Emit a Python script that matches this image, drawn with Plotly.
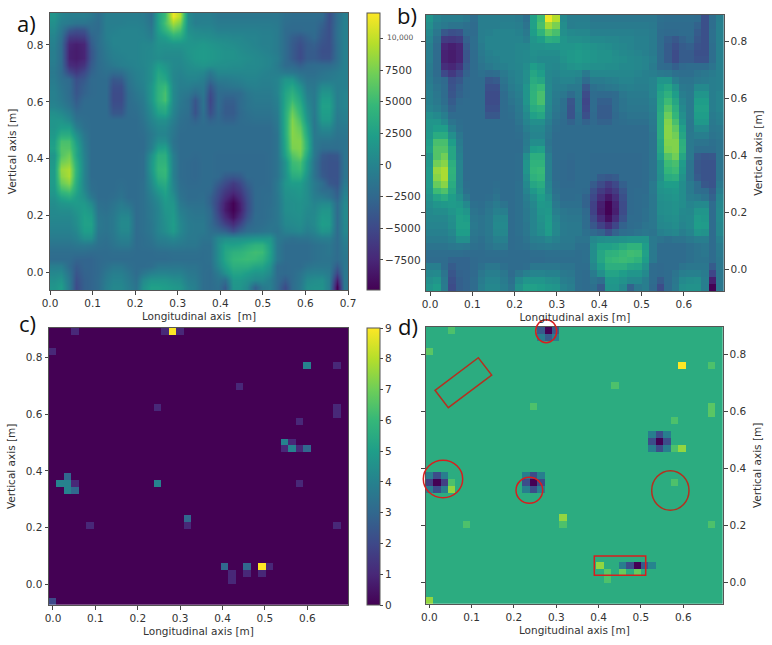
"""Four panel figure: field map, coarse field map, sparse counts, and their difference."""

import numpy as np
import plotly.graph_objects as go
from plotly.subplots import make_subplots

W, H = 772, 645
N = 40

x_ticks_a = [0.0, 0.1, 0.2, 0.3, 0.4, 0.5, 0.6, 0.7]
x_ticks = [0.0, 0.1, 0.2, 0.3, 0.4, 0.5, 0.6]
y_ticks = [0.0, 0.2, 0.4, 0.6, 0.8]
cbar_a_ticks = [-7500, -5000, -2500, 0, 2500, 5000, 7500, 10000]
cbar_a_labels = ["\u22127500", "\u22125000", "\u22122500", "0", "2500", "5000", "7500", " "]
cbar_c_ticks = [0, 1, 2, 3, 4, 5, 6, 7, 8, 9]

# field, in hundreds, first row is the top of the picture
field_rows = [
    [15,0,-5,-5,-5,-10,-20,-5,-5,-5,-5,-5,-8,-18,25,50,115,95,5,-5, -5,-5,-12,-12,-12,-12,-12,-12,-12,-12,-12,-18,-20,-20,-20,-20,-22,-45,-20,-5],
    [10,-5,-10,-15,-15,-18,-22,-5,-5,-5,-3,-3,-5,-15,25,55,90,75,8,-5, -3,-3,-8,-8,-8,-8,-8,-8,-8,-8,-10,-20,-22,-22,-22,-22,-30,-45,-20,-3],
    [5,-12,-38,-45,-42,-22,-22,-5,-3,0,0,0,-2,-10,22,42,65,55,10,5, 3,3,-3,-3,-3,-3,-3,-3,-5,-5,-8,-22,-24,-24,-22,-22,-35,-45,-18,-3],
    [0,-18,-60,-62,-58,-30,-20,-5,0,0,0,0,0,-5,15,22,38,35,15,10, 10,8,5,5,3,3,0,0,-3,-3,-8,-22,-32,-38,-30,-24,-38,-45,-18,-3],
    [-3,-22,-75,-80,-75,-35,-20,-8,0,0,0,0,3,3,12,12,15,15,15,15, 18,15,12,10,8,5,3,0,-3,-3,-8,-22,-35,-45,-35,-32,-42,-45,-20,-3],
    [-5,-22,-78,-82,-76,-40,-22,-10,-3,0,0,0,3,5,10,8,8,8,15,18, 20,18,15,12,12,8,5,3,0,-3,-8,-22,-35,-48,-35,-35,-45,-45,-20,-3],
    [-5,-22,-78,-82,-76,-40,-22,-12,-5,-3,0,0,3,5,8,5,5,5,12,18, 20,18,15,12,12,10,8,5,3,0,-5,-22,-35,-48,-35,-35,-42,-42,-20,-3],
    [-8,-22,-70,-75,-65,-35,-22,-15,-10,-5,-3,0,2,8,22,15,5,3,8,12, 15,12,10,10,8,8,5,5,3,0,-8,-22,-24,-32,-24,-22,-22,-22,-15,-3],
    [-10,-22,-50,-62,-50,-30,-22,-18,-22,-20,-10,-3,0,10,30,22,3,0,5,5, 3,-10,3,3,3,3,3,3,0,-3,-5,-10,-12,-18,-20,-20,-15,-12,-8,-3],
    [-8,-18,-24,-45,-38,-24,-22,-22,-38,-35,-15,-5,0,10,35,30,3,-3,0,0, -5,-22,-8,-8,-5,-3,0,0,-3,-3,0,15,15,-5,-15,-15,-10,-8,-5,-3],
    [-5,-15,-22,-42,-32,-24,-22,-22,-45,-45,-18,-8,-2,15,40,48,5,-5,-5,-10, -10,-38,-18,-15,-12,-10,-5,-3,-5,-5,0,22,30,12,-10,-12,5,5,-5,-3],
    [-3,-12,-22,-40,-30,-24,-22,-22,-48,-48,-22,-12,-5,15,42,55,5,-8,-12,-22, -12,-48,-22,-24,-24,-22,-12,-8,-8,-8,0,28,40,22,-5,-10,15,15,-5,0],
    [-3,-10,-20,-35,-24,-22,-22,-22,-48,-48,-22,-15,-8,15,42,55,5,-10,-18,-40, -15,-52,-22,-32,-32,-22,-15,-10,-10,-10,-3,30,50,30,0,-10,22,22,-5,0],
    [0,-5,-15,-30,-22,-22,-22,-22,-45,-45,-22,-18,-10,10,35,40,3,-12,-18,-42, -15,-50,-22,-35,-35,-22,-15,-12,-12,-12,-5,32,60,38,5,-10,25,25,-5,0],
    [10,5,-5,-22,-22,-22,-22,-22,-38,-38,-22,-20,-12,5,25,30,0,-15,-20,-42, -18,-45,-24,-35,-35,-24,-18,-15,-15,-15,-8,35,70,45,10,-10,22,22,-8,-3],
    [15,15,5,-15,-20,-22,-22,-22,-22,-22,-22,-22,-15,0,10,10,-5,-18,-22,-30, -20,-30,-24,-30,-30,-22,-20,-18,-18,-18,-10,35,78,55,15,-12,18,18,-10,-5],
    [15,22,22,-5,-18,-22,-22,-22,-22,-22,-22,-22,-18,-5,3,3,-10,-20,-22,-22, -22,-22,-22,-22,-22,-22,-22,-22,-22,-22,-12,35,80,65,25,-12,5,5,-12,-10],
    [18,35,35,10,-12,-22,-22,-22,-22,-22,-22,-22,-20,-10,0,0,-12,-22,-22,-22, -22,-22,-22,-22,-22,-22,-22,-22,-22,-22,-15,35,80,72,30,-10,-5,-5,-15,-12],
    [22,55,55,22,-8,-22,-22,-22,-22,-22,-22,-22,-22,-8,8,8,-15,-22,-22,-22, -22,-22,-22,-22,-22,-22,-22,-22,-22,-22,-15,32,78,78,38,-10,-15,-15,-18,-15],
    [25,60,60,30,-5,-22,-22,-22,-22,-22,-22,-22,-22,-5,22,25,-12,-22,-22,-22, -22,-22,-22,-22,-22,-22,-22,-22,-22,-22,-15,30,75,78,40,-10,-20,-20,-20,-15],
    [15,60,72,30,-2,-22,-22,-22,-22,-22,-22,-22,-20,10,38,38,-5,-22,-22,-24, -22,-22,-24,-24,-24,-24,-24,-24,-24,-22,-15,25,60,72,30,-10,-35,-40,-38,-15],
    [18,72,80,38,0,-22,-22,-22,-22,-22,-22,-22,-20,15,42,42,-3,-22,-24,-26, -22,-22,-24,-24,-24,-24,-24,-24,-24,-22,-15,12,50,55,20,-15,-38,-42,-42,-15],
    [20,85,92,42,0,-22,-22,-22,-22,-22,-22,-22,-20,15,45,48,-3,-22,-24,-26, -22,-22,-24,-24,-24,-24,-24,-24,-24,-22,-15,12,45,50,18,-15,-38,-42,-42,-15],
    [20,80,92,40,0,-22,-22,-22,-22,-22,-22,-22,-20,10,40,45,-3,-22,-24,-26, -22,-22,-24,-35,-38,-35,-24,-24,-24,-22,-15,10,35,38,12,-15,-35,-42,-42,-15],
    [20,68,80,35,0,-20,-22,-22,-22,-20,-22,-22,-18,5,30,35,0,-20,-24,-24, -22,-22,-35,-48,-60,-50,-32,-24,-24,-22,-10,15,22,22,8,-8,-20,-38,-42,-10],
    [18,50,58,30,3,-18,-22,-22,-22,-18,-22,-22,-18,0,18,28,3,-18,-22,-22, -22,-24,-45,-60,-70,-60,-40,-24,-22,-22,-10,12,15,18,8,-8,-20,-22,-35,-5],
    [12,28,35,22,10,-10,-22,-22,-20,-15,-22,-22,-18,-5,8,22,10,-15,-22,-22, -20,-30,-50,-70,-85,-70,-45,-24,-22,-20,-12,10,12,15,8,-5,-8,-15,-30,0],
    [8,15,18,20,18,5,-18,-20,-15,-8,-15,-22,-18,-8,3,18,15,-10,-18,-18, -18,-30,-55,-80,-98,-78,-48,-24,-22,-20,-12,8,10,12,8,0,5,5,-22,3],
    [5,8,8,15,22,15,-15,-18,-12,-3,-5,-22,-18,-10,0,15,18,-5,-12,-15, -15,-24,-55,-82,-98,-80,-48,-24,-22,-18,-12,8,10,12,5,3,15,15,-22,5],
    [3,3,3,10,25,22,-12,-15,-10,3,3,-22,-18,-10,0,12,20,0,-10,-12, -12,-22,-48,-72,-90,-70,-42,-22,-22,-18,-12,5,8,10,3,5,20,18,-22,5],
    [0,0,0,8,25,25,-10,-15,-10,5,5,-22,-18,-12,0,10,22,3,-8,-10, -10,-22,-38,-55,-70,-52,-30,-22,-20,-15,-12,3,5,8,0,5,22,20,-22,3],
    [-3,-3,-3,3,22,22,-12,-15,-10,3,3,-22,-18,-12,0,8,20,3,-8,-10, -10,-18,-24,-30,-45,-30,-20,-18,-15,-12,-15,-3,0,3,-5,0,15,12,-22,3],
    [-8,-8,-8,-3,10,10,-15,-18,-12,-3,-3,-22,-20,-15,-5,-3,3,-3,-10,-10, -15,-15,3,8,10,10,12,15,15,15,-10,-15,-18,-15,-15,-10,-5,-5,-22,-3],
    [-15,-15,-15,-12,-10,-12,-18,-20,-15,-10,-10,-22,-20,-18,-12,-10,-8,-10,-12,-12, -18,-18,8,25,25,28,35,42,42,22,-10,-22,-22,-22,-22,-18,-15,-12,-22,-8],
    [-20,-20,-20,-20,-20,-22,-22,-22,-20,-20,-20,-22,-22,-22,-20,-20,-18,-18,-18,-18, -20,-18,8,30,40,42,48,52,50,25,-10,-22,-22,-22,-22,-18,-15,-12,-22,-10],
    [-22,-22,-22,-28,-28,-28,-24,-22,-22,-22,-22,-22,-22,-22,-22,-22,-20,-20,-20,-20, -20,-18,8,30,45,48,50,48,42,22,-10,-22,-22,-22,-22,-18,-15,-15,-22,-12],
    [-5,-5,-22,-35,-28,-28,-24,-18,-12,-12,-18,-22,-22,-20,-12,-12,-12,-12,-15,-15, -20,-20,3,22,38,38,38,30,28,12,-22,-24,-22,-22,-15,-12,-12,-12,-35,-12],
    [3,5,-15,-40,-30,-28,-24,-12,-5,-5,-12,-22,-12,-3,0,0,-2,-2,-10,-12, -20,-22,-8,10,28,28,22,15,15,5,-22,-24,-22,-15,-5,-3,-3,-8,-52,-12],
    [10,15,-10,-45,-32,-28,-22,-8,0,0,-8,-18,5,15,15,15,10,8,-5,-8, -20,-22,-15,-20,18,18,12,5,5,-5,-22,-35,-22,-12,5,8,10,-5,-80,-12],
    [15,22,-8,-48,-32,-28,-22,-5,3,3,-5,-15,12,25,25,22,18,15,0,-5, -20,-22,-18,-35,15,15,5,-30,-10,-5,-24,-48,-22,-10,10,12,12,-5,-100,-12],
]

# non zero cells of panel c, rows counted from the top
c_cols = [3, 15, 16, 17, 0, 34, 38, 25, 14, 38, 38, 33, 31, 32, 31, 32, 33, 34, 2, 1, 2, 3, 2, 3, 14, 33, 18, 18, 5, 38, 23, 26, 28, 29, 24, 26, 28, 24, 0]
c_rows = [0, 0, 0, 0, 3, 5, 5, 8, 11, 11, 12, 13, 16, 16, 17, 17, 17, 17, 21, 22, 22, 22, 23, 23, 22, 22, 27, 28, 28, 28, 34, 34, 34, 34, 35, 35, 35, 36, 39]
c_vals = [1, 1, 9, 1, 1, 4, 1, 1, 1, 1, 1, 1, 4, 1, 1, 4, 1, 3, 3, 4, 4, 1, 4, 3, 4, 1, 3, 1, 1, 1, 3, 3, 9, 1, 1, 1, 1, 1, 2]

# cells of panel d that differ from the background
d_cols = [3, 0, 34, 38, 25, 14, 38, 38, 33, 33, 34, 3, 3, 33, 18, 18, 5, 38, 23, 24, 24, 26, 28, 0,
          16, 15, 17, 15, 16, 17,
          1, 0, 2, 1, 1, 0, 2, 0, 2,
          14, 13, 15, 14, 14, 13, 15, 13, 15,
          31, 30, 32, 31, 31, 30, 32, 30, 32,
          28, 27, 29, 26, 30]
d_rows = [0, 3, 5, 5, 8, 11, 11, 12, 13, 17, 17, 22, 23, 22, 27, 28, 28, 28, 34, 35, 36, 35, 35, 39,
          0, 0, 0, 1, 1, 1,
          22, 22, 22, 21, 23, 21, 21, 23, 23,
          22, 22, 22, 21, 23, 21, 21, 23, 23,
          16, 16, 16, 15, 17, 15, 15, 17, 17,
          34, 34, 34, 34, 34]
d_vals = [4, 5, 16, 4, 4, 4, 5, 5, 4, 4, 9, 4, 9, 4, 9, 4, 4, 4, 9, 5, 4, 6, 6, 9,
          -26, -14, -14, -8, -14, -8,
          -26, -18, -18, -16, -16, -8, -8, -8, -8,
          -26, -16, -16, -16, -16, -8, -8, -8, -8,
          -26, -16, -16, -16, -16, -8, -8, -8, -8,
          -26, -16, -14, -8, -7]


def dom_x(p0, p1):
    return [p0 / W, p1 / W]


def dom_y(p_top, p_bottom):
    return [1 - p_bottom / H, 1 - p_top / H]


def centres(lo, hi):
    step = (hi - lo) / N
    return lo + (np.arange(N) + 0.5) * step


def sparse_grid(cols, rows, vals):
    z = np.zeros((N, N))
    for col, row, val in zip(cols, rows, vals):
        z[N - 1 - row, col] = val
    return z


field = np.array(field_rows[::-1]) * 100

# axis limits of each panel
range_a = ([0.0, 0.7], [-0.061, 0.912])
range_b = ([-0.0102, 0.695], [-0.077, 0.894])
range_c = ([-0.0094, 0.696], [-0.073, 0.9056])
range_d = ([-0.0085, 0.694], [-0.076, 0.896])

fig = make_subplots(rows=2, cols=2)

fig.add_trace(go.Heatmap(
    z=field, x=centres(*range_a[0]), y=centres(*range_a[1]),
    colorscale="Viridis", zmin=-9870, zmax=12000, zsmooth="best",
    colorbar=dict(x=366.7 / W, xanchor="left", xpad=0, y=1 - 290 / H, yanchor="bottom", ypad=0,
                  len=277 / H, lenmode="fraction", thickness=13.3, thicknessmode="pixels",
                  outlinecolor="#555", outlinewidth=1, ticks="outside", ticklen=3, tickcolor="#444",
                  tickvals=cbar_a_ticks, ticktext=cbar_a_labels,
                  tickfont=dict(family="DejaVu Sans", size=10.5, color="#333")),
), row=1, col=1)

fig.add_trace(go.Heatmap(
    z=field, x=centres(*range_b[0]), y=centres(*range_b[1]),
    colorscale="Viridis", zmin=-9870, zmax=12000, showscale=False,
), row=1, col=2)

fig.add_trace(go.Heatmap(
    z=sparse_grid(c_cols, c_rows, c_vals), x=centres(*range_c[0]), y=centres(*range_c[1]),
    colorscale="Viridis", zmin=0, zmax=9,
    colorbar=dict(x=366.7 / W, xanchor="left", xpad=0, y=1 - 605 / H, yanchor="bottom", ypad=0,
                  len=277.3 / H, lenmode="fraction", thickness=13.3, thicknessmode="pixels",
                  outlinecolor="#555", outlinewidth=1, ticks="outside", ticklen=3, tickcolor="#444",
                  tickvals=cbar_c_ticks,
                  tickfont=dict(family="DejaVu Sans", size=10.5, color="#333")),
), row=2, col=1)

fig.add_trace(go.Heatmap(
    z=sparse_grid(d_cols, d_rows, d_vals), x=centres(*range_d[0]), y=centres(*range_d[1]),
    colorscale="Viridis", zmin=-26, zmax=16, showscale=False,
), row=2, col=2)

axis_style = dict(
    showgrid=False, zeroline=False, ticks="outside", ticklen=3.5, tickwidth=1, tickcolor="#444",
    showline=True, linecolor="#555", linewidth=1,
    tickfont=dict(family="DejaVu Sans", size=10.5, color="#333"),
    tickformat=".1f",
)
title_font = dict(family="DejaVu Sans", size=10.5, color="#333")

layouts = [
    ("", (50, 348), (13, 290), range_a, x_ticks_a, "left", "Longitudinal axis  [m]"),
    ("2", (425.7, 724), (15, 291), range_b, x_ticks, "right", "Longitudinal axis [m]"),
    ("3", (49, 348), (327.7, 605), range_c, x_ticks, "left", "Longitudinal axis [m]"),
    ("4", (425.7, 723), (327, 603.7), range_d, x_ticks, "right", "Longitudinal axis [m]"),
]
for suffix, px, py, (rx, ry), xt, side, xtitle in layouts:
    fig.layout["xaxis" + suffix].update(
        domain=dom_x(*px), range=rx, tickvals=xt, mirror=True,
        title=dict(text=xtitle, font=title_font, standoff=4), **axis_style)
    fig.layout["yaxis" + suffix].update(
        domain=dom_y(*py), range=ry, tickvals=y_ticks, side=side,
        mirror="ticks" if side == "right" else True,
        title=dict(text="Vertical axis [m]", font=title_font, standoff=8), **axis_style)

# red outlines drawn over panel d, in page pixels
red_dark = "#b5301f"
red = "#d81e1e"


def px_circle(x0, x1, y0, y1, color):
    return dict(type="circle", xref="paper", yref="paper", x0=x0 / W, x1=x1 / W,
                y0=1 - y0 / H, y1=1 - y1 / H, line=dict(color=color, width=1.5))


fig.add_shape(px_circle(423.3, 462.7, 460.3, 497.7, red))
fig.add_shape(px_circle(516, 542.7, 477.3, 503.3, red))
fig.add_shape(px_circle(651.7, 689, 470.7, 510.3, red_dark))
fig.add_shape(px_circle(535.7, 556.7, 319.7, 342.7, red))
fig.add_shape(dict(type="rect", xref="paper", yref="paper", x0=594.3 / W, x1=645.7 / W,
                   y0=1 - 556 / H, y1=1 - 575.3 / H, line=dict(color=red, width=1.5)))
slab_x = [435, 478.3, 491.7, 448.3]
slab_y = [390.3, 357.7, 375, 407.7]
slab_path = "M " + " L ".join(f"{x / W:.4f},{1 - y / H:.4f}" for x, y in zip(slab_x, slab_y)) + " Z"
fig.add_shape(dict(type="path", xref="paper", yref="paper", path=slab_path,
                   line=dict(color=red_dark, width=1.5)))

# panel letters and the small pasted colorbar label
for text, lx, ly in [("a)", 15, 23), ("b)", 395, 15), ("c)", 17, 323), ("d)", 396, 326)]:
    fig.add_annotation(text=text, xref="paper", yref="paper", x=lx / W, y=1 - ly / H,
                       xanchor="left", yanchor="middle", showarrow=False,
                       font=dict(family="Open Sans", size=22, color="#111"))
fig.add_annotation(text="10,000", xref="paper", yref="paper", x=384.5 / W, y=1 - 38 / H,
                   xanchor="left", yanchor="middle", showarrow=False,
                   font=dict(family="DejaVu Sans", size=7.5, color="#555"))

fig.update_layout(
    width=W, height=H, showlegend=False, paper_bgcolor="white", plot_bgcolor="white",
    margin=dict(l=0, r=0, t=0, b=0, pad=0, autoexpand=False),
)

fig.write_html("out.html", config={"displayModeBar": False},
               post_script="document.body.style.margin='0';")
